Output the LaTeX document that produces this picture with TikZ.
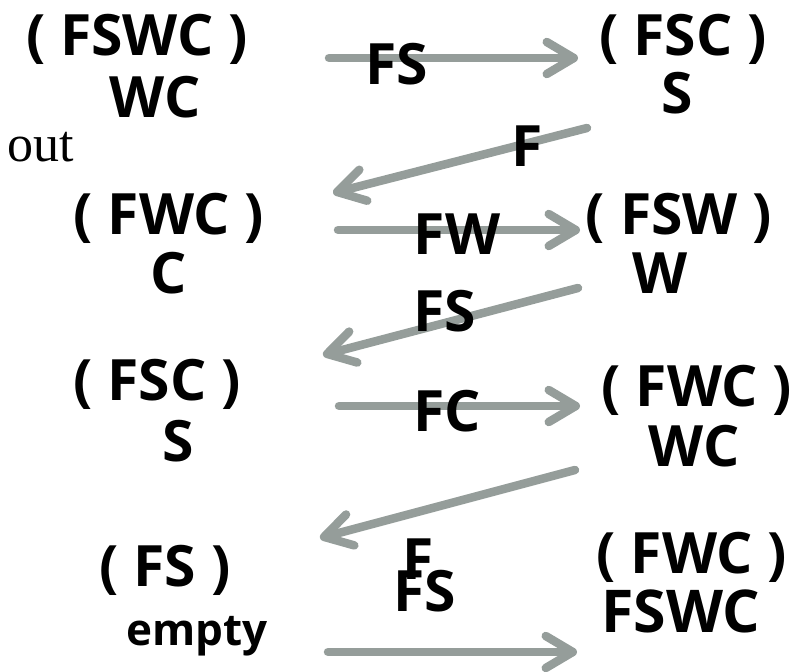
\documentclass[tikz,border=0pt]{standalone}
\usepackage{fontspec}
\setmainfont{Open Sans}
\newfontfamily\serifface{Liberation Serif}
\usetikzlibrary{arrows.meta}
\definecolor{arrowgray}{RGB}{149,157,154}

\begin{document}
\begin{tikzpicture}[x=1pt,y=-1pt,
  state/.style={font=\fontsize{57}{62}\selectfont\bfseries, anchor=base, inner sep=0pt},
  move/.style={font=\fontsize{57}{62}\selectfont\bfseries, anchor=base, inner sep=0pt},
  ferry/.style={draw=arrowgray, line width=8.5pt, line cap=round,
    -{Straight Barb[length=27pt, width=32pt, round]}}]
\useasboundingbox (0,0) rectangle (812,672);

% arrow end points
\coordinate (a1s) at (329,58);  \coordinate (a1e) at (578,58);
\coordinate (a2s) at (587,128); \coordinate (a2e) at (333,193);
\coordinate (a3s) at (338,230); \coordinate (a3e) at (580,230);
\coordinate (a4s) at (578,288); \coordinate (a4e) at (323,355);
\coordinate (a5s) at (339,406); \coordinate (a5e) at (580,406);
\coordinate (a6s) at (575,470); \coordinate (a6e) at (320,538);
\coordinate (a7s) at (328,652); \coordinate (a7e) at (577,652);

\draw[ferry] (a1s) -- (a1e);
\draw[ferry] (a2s) -- (a2e);
\draw[ferry] (a3s) -- (a3e);
\draw[ferry] (a4s) -- (a4e);
\draw[ferry] (a5s) -- (a5e);
\draw[ferry] (a6s) -- (a6e);
\draw[ferry] (a7s) -- (a7e);

% left bank states
\node[state] (l1a) at (137,55)  {( FSWC )};
\node[state] (l1b) at (155,117) {WC};
\node[font=\serifface\fontsize{52}{58}\selectfont, anchor=base east, inner sep=0pt] (note) at (74,161) {out};
\node[state] (l2a) at (169,234) {( FWC )};
\node[state] (l2b) at (169,293) {C};
\node[state] (l3a) at (157,400) {( FSC )};
\node[state] (l3b) at (178,461) {S};
\node[state] (l4a) at (165,586) {( FS )};
\node[font=\fontsize{44}{50}\selectfont\bfseries, anchor=base, inner sep=0pt] (l4b) at (197,645) {empty};

% right bank states
\node[state] (r1a) at (683,55)  {( FSC )};
\node[state] (r1b) at (677,113) {S};
\node[state] (r2a) at (679,234) {( FSW )};
\node[state] (r2b) at (660,293) {W};
\node[state] (r3a) at (697,406) {( FWC )};
\node[state] (r3b) at (694,466) {WC};
\node[state] (r4a) at (692,573) {( FWC )};
\node[state, font=\fontsize{59}{64}\selectfont\bfseries] (r4b) at (681,632) {FSWC};

% crossing labels
\node[move] (m1) at (397,84)  {FS};
\node[move] (m2) at (527,166) {F};
\node[move] (m3) at (457,254) {FW};
\node[move] (m4) at (445,331) {FS};
\node[move] (m5) at (447,431) {FC};
\node[move] (m6) at (418,579) {F};
\node[move] (m7) at (425,611) {FS};
\end{tikzpicture}
\end{document}
